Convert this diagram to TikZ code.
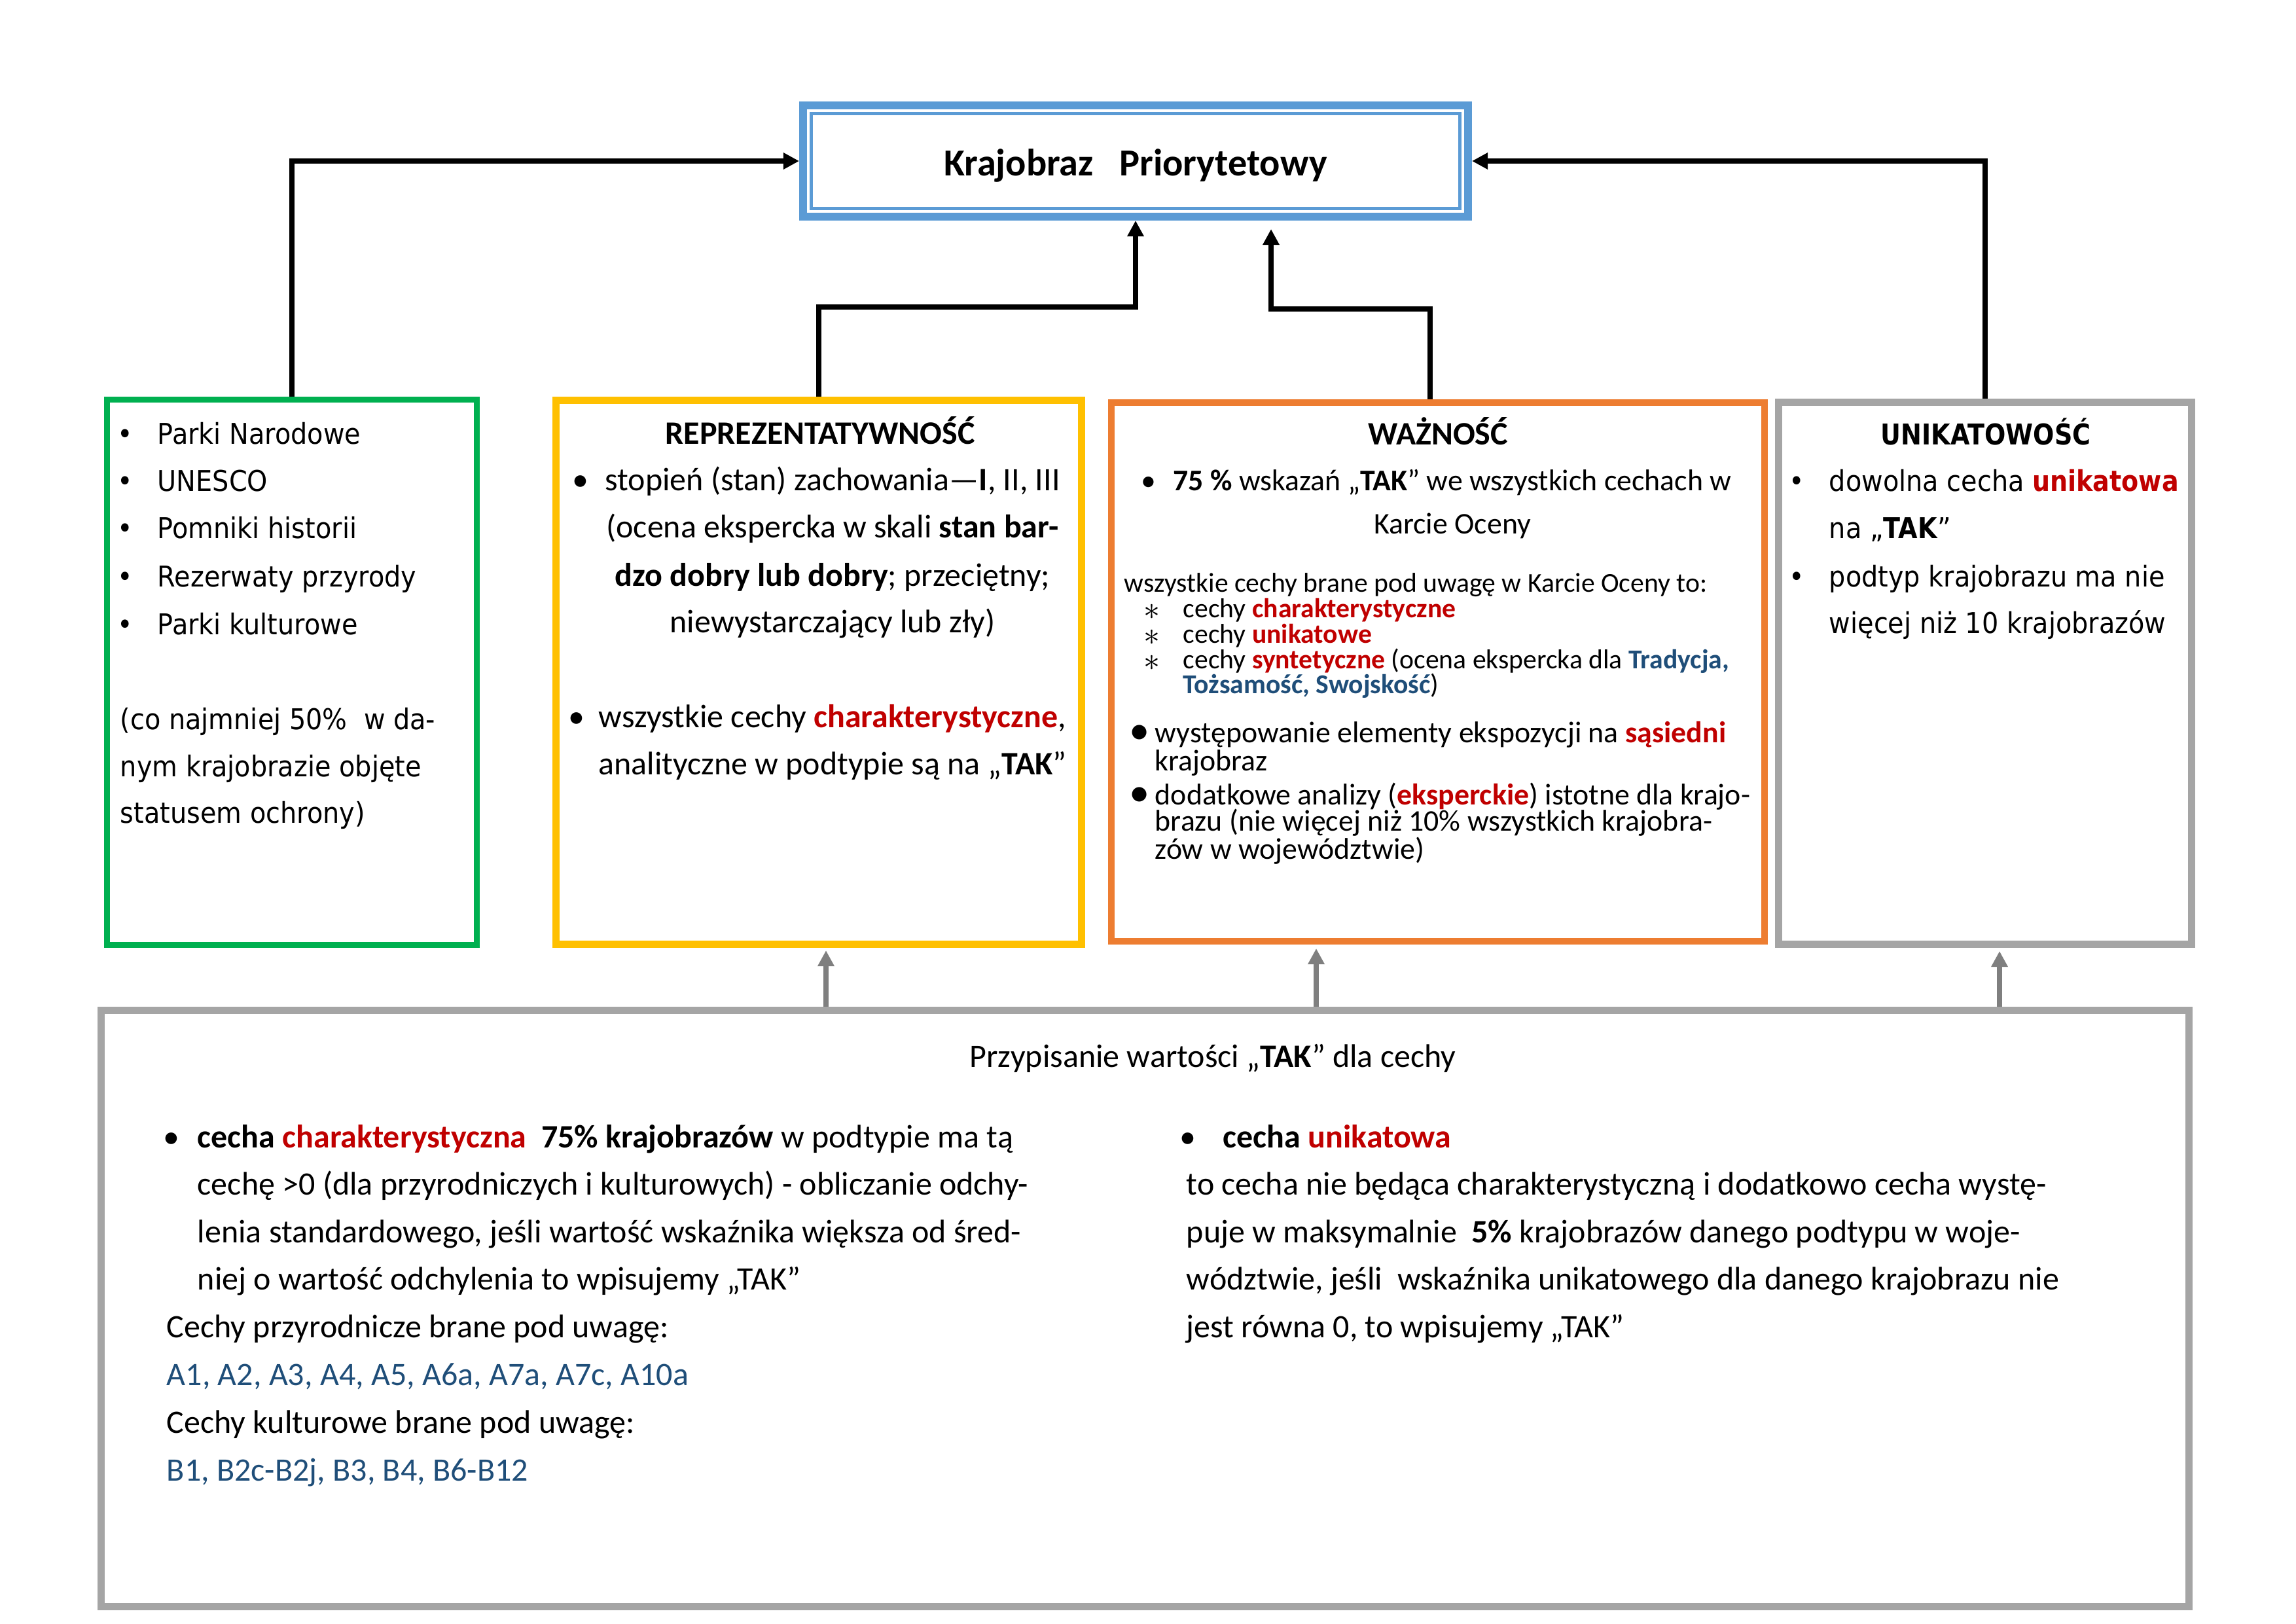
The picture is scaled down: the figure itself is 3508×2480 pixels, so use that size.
\documentclass[tikz,border=0pt]{standalone}
\usepackage{fontspec}
\setmainfont{Carlito}
\newfontfamily\vfont[FakeStretch=0.91,BoldFeatures={FakeStretch=0.87}]{DejaVu Sans}
\usetikzlibrary{arrows.meta,calc}
\definecolor{mred}{HTML}{C00000}
\definecolor{mblue}{HTML}{1F4E79}
\definecolor{bgreen}{HTML}{00B050}
\definecolor{byellow}{HTML}{FFC000}
\definecolor{borange}{HTML}{ED7D31}
\definecolor{bgray}{HTML}{A5A5A5}
\definecolor{btop}{HTML}{5B9BD5}
\definecolor{agray}{HTML}{7F7F7F}
\begin{document}
\begin{tikzpicture}[x=0.24pt,y=-0.24pt,
  box/.style={rectangle,inner sep=0pt},
  barrow/.style={draw=black,line width=1.92pt,-{Triangle[length=5.8pt,width=5.8pt]}},
  garrow/.style={draw=agray,line width=1.9pt,-{Triangle[length=5.8pt,width=5.8pt]}},
  tl/.style={anchor=base west,inner sep=0pt},
  tc/.style={anchor=base,inner sep=0pt},
  vt/.style={font=\vfont\fontsize{10.5}{12}\selectfont},
  vtb/.style={font=\vfont\bfseries\fontsize{10.5}{12}\selectfont},
  c12/.style={font=\fontsize{12}{14}\selectfont},
  c12b/.style={font=\bfseries\fontsize{12}{14}\selectfont},
  c11/.style={font=\fontsize{11}{13}\selectfont},
  c10/.style={font=\fontsize{10}{12}\selectfont},
  ast/.style={font=\fontsize{12}{12}\selectfont},
  bigbul/.style={font=\fontsize{15}{15}\selectfont}
]
\fill[white] (0,0) rectangle (3508,2480);
\useasboundingbox (0,0) rectangle (3508,2480);

% ---------- boxes ----------
\node[box,draw=btop,line width=2.88pt,minimum width=243.84pt,minimum height=40.8pt] (top) at (1735,246) {};
\node[box,draw=btop,line width=1.2pt,minimum width=237.84pt,minimum height=34.8pt] (topin) at (1735,246) {};
\node[tc,font=\bfseries\fontsize{14}{16}\selectfont] (toptxt) at (1735,268) {Krajobraz\ \ \ Priorytetowy};

\node[box,draw=bgreen,line width=2.16pt,minimum width=135.6pt,minimum height=199.92pt] (green) at (446,1027) {};
\node[box,draw=byellow,line width=2.64pt,minimum width=192.72pt,minimum height=199.44pt] (yellow) at (1251,1027) {};
\node[box,draw=borange,line width=2.4pt,minimum width=239.52pt,minimum height=197.52pt] (orange) at (2197,1026.5) {};
\node[box,draw=bgray,line width=2.64pt,minimum width=151.44pt,minimum height=198.72pt] (gray) at (3033,1028.5) {};
\node[box,draw=bgray,line width=2.64pt,minimum width=765.6pt,minimum height=218.64pt] (bottom) at (1749,1998.5) {};

% ---------- black connectors ----------
\draw[barrow] (green.north) |- (top.west);
\draw[barrow] (yellow.north) -- ++(0,-137) -| (top.south);
\coordinate (t3) at (1942,350);
\draw[barrow] ($(orange.north)+(-12,0)$) |- ($(t3)+(0,122)$) -- (t3);
\draw[barrow] (gray.north) |- (top.east);

% ---------- gray connectors ----------
\coordinate (g1) at (1262,1452);
\coordinate (g2) at (2011,1449);
\coordinate (g3) at (3055,1453);
\draw[garrow] (g1 |- bottom.north) -- (g1);
\draw[garrow] (g2 |- bottom.north) -- (g2);
\draw[garrow] (g3 |- bottom.north) -- (g3);

% ---------- green box text ----------
\node[vt,tc] (gb1) at (191,678) {•};
\node[vt,tc] (gb2) at (191,750) {•};
\node[vt,tc] (gb3) at (191,822) {•};
\node[vt,tc] (gb4) at (191,896) {•};
\node[vt,tc] (gb5) at (191,969) {•};
\node[vt,tl] (gt1) at (240,678) {Parki Narodowe};
\node[vt,tl] (gt2) at (240,750) {UNESCO};
\node[vt,tl] (gt3) at (240,822) {Pomniki historii};
\node[vt,tl] (gt4) at (240,896) {Rezerwaty przyrody};
\node[vt,tl] (gt5) at (240,969) {Parki kulturowe};
\node[vt,tl] (gp1) at (183,1114) {(co najmniej 50\%\ \ w da-};
\node[vt,tl] (gp2) at (183,1186) {nym krajobrazie objęte};
\node[vt,tl] (gp3) at (183,1257) {statusem ochrony)};

% ---------- yellow box text ----------
\node[c12b,tc] (yt0) at (1253,678) {REPREZENTATYWNOŚĆ};
\node[c12,tc] (yb1) at (887,749) {•};
\node[c12,tc] (yt1) at (1272,749) {stopień (stan) zachowania—\textbf{I}, II, III};
\node[c12,tc] (yt2) at (1272,821) {(ocena ekspercka w skali \textbf{stan bar-}};
\node[c12,tc] (yt3) at (1272,895) {\textbf{dzo dobry lub dobry}; przeciętny;};
\node[c12,tc] (yt4) at (1272,966) {niewystarczający lub zły)};
\node[c12,tc] (yb2) at (881,1111) {•};
\node[c12,tc] (yt5) at (1272,1111) {wszystkie cechy \textcolor{mred}{\textbf{charakterystyczne}},};
\node[c12,tc] (yt6) at (1272,1183) {analityczne w podtypie są na „\textbf{TAK}”};

% ---------- orange box text ----------
\node[c12b,tc] (ot0) at (2197,679) {WAŻNOŚĆ};
\node[c11,tc] (ob1) at (1755,749) {•};
\node[c11,tc] (ot1) at (2219,749) {\textbf{75 \%} wskazań „\textbf{TAK}” we wszystkich cechach w};
\node[c11,tc] (ot2) at (2219,815) {Karcie Oceny};
\node[c10,tl] (ot3) at (1717,904) {wszystkie cechy brane pod uwagę w Karcie Oceny to:};
\node[ast,tc] (oa1) at (1760,946) {$\ast$};
\node[ast,tc] (oa2) at (1760,985) {$\ast$};
\node[ast,tc] (oa3) at (1760,1024) {$\ast$};
\node[c10,tl] (ot4) at (1807,943) {cechy \textcolor{mred}{\textbf{charakterystyczne}}};
\node[c10,tl] (ot5) at (1807,982) {cechy \textcolor{mred}{\textbf{unikatowe}}};
\node[c10,tl] (ot6) at (1807,1021) {cechy \textcolor{mred}{\textbf{syntetyczne}} (ocena ekspercka dla \textcolor{mblue}{\textbf{Tradycja,}}};
\node[c10,tl] (ot7) at (1807,1059) {\textcolor{mblue}{\textbf{Tożsamość, Swojskość}})};
\node[bigbul,tc] (ob2) at (1741,1136) {•};
\node[c11,tl] (ot8) at (1764,1134) {występowanie elementy ekspozycji na \textcolor{mred}{\textbf{sąsiedni}}};
\node[c11,tl] (ot9) at (1764,1177) {krajobraz};
\node[bigbul,tc] (ob3) at (1741,1231) {•};
\node[c11,tl] (ot10) at (1764,1229) {dodatkowe analizy (\textcolor{mred}{\textbf{eksperckie}}) istotne dla krajo-};
\node[c11,tl] (ot11) at (1764,1269) {brazu (nie więcej niż 10\% wszystkich krajobra-};
\node[c11,tl] (ot12) at (1764,1312) {zów w województwie)};

% ---------- gray box text ----------
\node[vtb,tc] (ut0) at (3034,679) {UNIKATOWOŚĆ};
\node[vt,tc] (ub1) at (2745,750) {•};
\node[vt,tc] (ub2) at (2745,896) {•};
\node[vt,tl] (ut1) at (2794,750) {dowolna cecha \textcolor{mred}{\textbf{unikatowa}}};
\node[vt,tl] (ut2) at (2794,822) {na „\textbf{TAK}”};
\node[vt,tl] (ut3) at (2794,896) {podtyp krajobrazu ma nie};
\node[vt,tl] (ut4) at (2794,967) {więcej niż 10 krajobrazów};

% ---------- bottom box text ----------
\node[c12,tc] (bt0) at (1853,1630) {Przypisanie wartości „\textbf{TAK}” dla cechy};
\node[c12,tc] (bb1) at (262,1753) {•};
\node[c12,tl] (bt1) at (301,1753) {\textbf{cecha} \textcolor{mred}{\textbf{charakterystyczna}}\ \ \textbf{75\% krajobrazów} w podtypie ma tą};
\node[c12,tl] (bt2) at (301,1825) {cechę >0 (dla przyrodniczych i kulturowych) - obliczanie odchy-};
\node[c12,tl] (bt3) at (301,1898) {lenia standardowego, jeśli wartość wskaźnika większa od śred-};
\node[c12,tl] (bt4) at (301,1970) {niej o wartość odchylenia to wpisujemy „TAK”};
\node[c12,tl] (bt5) at (254,2043) {Cechy przyrodnicze brane pod uwagę:};
\node[c12,tl,text=mblue] (bt6) at (254,2116) {A1, A2, A3, A4, A5, A6a, A7a, A7c, A10a};
\node[c12,tl] (bt7) at (254,2189) {Cechy kulturowe brane pod uwagę:};
\node[c12,tl,text=mblue] (bt8) at (254,2262) {B1, B2c-B2j, B3, B4, B6-B12};

\node[c12,tc] (rb1) at (1815,1753) {•};
\node[c12,tl] (rt1) at (1868,1753) {\textbf{cecha} \textcolor{mred}{\textbf{unikatowa}}};
\node[c12,tl] (rt2) at (1812,1825) {to cecha nie będąca charakterystyczną i dodatkowo cecha wystę-};
\node[c12,tl] (rt3) at (1812,1898) {puje w maksymalnie\ \ \textbf{5\%} krajobrazów danego podtypu w woje-};
\node[c12,tl] (rt4) at (1812,1970) {wództwie, jeśli\ \ wskaźnika unikatowego dla danego krajobrazu nie};
\node[c12,tl] (rt5) at (1812,2043) {jest równa 0, to wpisujemy „TAK”};
\end{tikzpicture}
\end{document}
